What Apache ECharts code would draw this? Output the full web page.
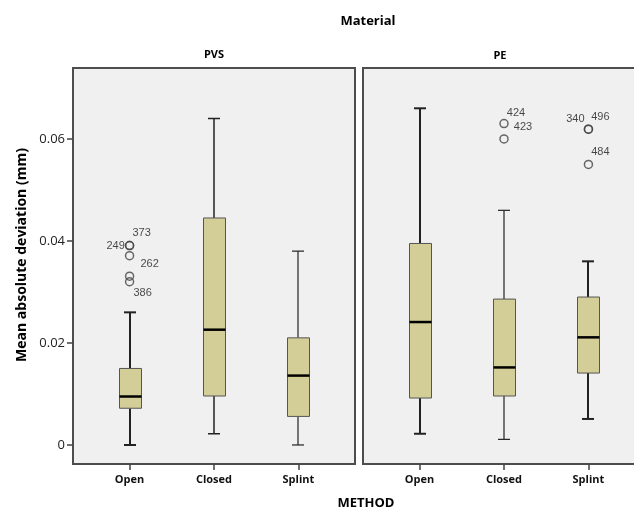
<!DOCTYPE html>
<html>
<head>
<meta charset="utf-8">
<script src="https://cdn.jsdelivr.net/npm/echarts@6/dist/echarts.min.js"></script>
<style>html,body{margin:0;padding:0;background:#fff;}#c{width:634px;height:508px;}</style>
</head>
<body>
<div id="c"></div>
<script>
// ---- data ----
const categories = ['Open', 'Closed', 'Splint'];
const yTicks = [0, 0.02, 0.04, 0.06];
// [min, Q1, median, Q3, max] per category
const pvsBox = [
  [0.0, 0.0072, 0.0095, 0.0150, 0.0260],
  [0.0022, 0.0096, 0.0226, 0.0445, 0.0640],
  [0.0, 0.0056, 0.0136, 0.0210, 0.0380]
];
const peBox = [
  [0.0022, 0.0092, 0.0241, 0.0395, 0.0660],
  [0.0011, 0.0096, 0.0152, 0.0286, 0.0460],
  [0.0051, 0.0141, 0.0211, 0.0290, 0.0360]
];
// [category, value, case id]
const pvsOutliers = [
  ['Open', 0.0391, '249'],
  ['Open', 0.0391, '373'],
  ['Open', 0.0371, '262'],
  ['Open', 0.0331, ''],
  ['Open', 0.0320, '386']
];
const peOutliers = [
  ['Closed', 0.0630, '424'],
  ['Closed', 0.0600, '423'],
  ['Splint', 0.0619, '340'],
  ['Splint', 0.0619, '496'],
  ['Splint', 0.0550, '484']
];

// ---- styles ----
const labelOffsets = {
  '249': [-14, 0], '373': [12, -13], '262': [20, 8], '386': [13, 11],
  '424': [12, -11], '423': [19, -12], '340': [-13, -10], '496': [12, -12], '484': [12, -12]
};
const whiskerWidths = [[2, 1.5, 1.2], [2, 1.2, 2]];
const BOX_FILL = '#d3ce97';

function boxData(stats) {
  return stats.map((s, i) => [i + 1].concat(s));
}
function outlierData(list) {
  return list.map(o => {
    const item = { value: [categories.indexOf(o[0]) + 1, o[1]], name: o[2] };
    if (o[2]) {
      item.label = { show: true, offset: labelOffsets[o[2]] };
    } else {
      item.label = { show: false };
    }
    return item;
  });
}
function makeRender(panel) {
  return function (params, api) {
    const x = api.value(0);
    const pMin = api.coord([x, api.value(1)]);
    const pQ1 = api.coord([x, api.value(2)]);
    const pMed = api.coord([x, api.value(3)]);
    const pQ3 = api.coord([x, api.value(4)]);
    const pMax = api.coord([x, api.value(5)]);
    const cx = Math.round(pMed[0]);
    const hw = 11, cw = 6;
    const ww = whiskerWidths[panel][params.dataIndex];
    const wl = { stroke: '#222', lineWidth: ww };
    return {
      type: 'group',
      children: [
        { type: 'line', shape: { x1: cx, y1: pQ3[1], x2: cx, y2: pMax[1] }, style: wl },
        { type: 'line', shape: { x1: cx, y1: pQ1[1], x2: cx, y2: pMin[1] }, style: wl },
        { type: 'line', shape: { x1: cx - cw, y1: pMax[1], x2: cx + cw, y2: pMax[1] }, style: wl },
        { type: 'line', shape: { x1: cx - cw, y1: pMin[1], x2: cx + cw, y2: pMin[1] }, style: wl },
        { type: 'rect', shape: { x: cx - hw + 0.5, y: pQ3[1], width: hw * 2, height: pQ1[1] - pQ3[1] },
          style: { fill: BOX_FILL, stroke: '#555', lineWidth: 1 } },
        { type: 'line', shape: { x1: cx - hw + 0.5, y1: pMed[1], x2: cx + hw + 0.5, y2: pMed[1] },
          style: { stroke: '#000', lineWidth: 2.5 } }
      ]
    };
  };
}

const YMIN = -0.00373, YMAX = 0.0739;
const XMIN = 0.33, XMAX = 3.67;
const tickFont = 'Open Sans';

function xAxis(gi) {
  return {
    type: 'value', gridIndex: gi, min: XMIN, max: XMAX,
    splitLine: { show: false },
    axisLine: { show: false, onZero: false },
    axisTick: { show: true, customValues: [1, 2, 3], length: 6, lineStyle: { color: '#444', width: 1.5 } },
    axisLabel: { customValues: [1, 2, 3], formatter: v => categories[Math.round(v) - 1],
      fontSize: 11, fontWeight: 'bold', color: '#111', fontFamily: tickFont, margin: 10 }
  };
}

const option = {
  animation: false,
  backgroundColor: '#fff',
  grid: [
    { left: 73, top: 68, width: 282, height: 396, outerBoundsMode: 'none', containLabel: false,
      show: true, backgroundColor: '#f0f0f0', borderColor: '#4d4d4d', borderWidth: 2 },
    { left: 363, top: 68, width: 282, height: 396, outerBoundsMode: 'none', containLabel: false,
      show: true, backgroundColor: '#f0f0f0', borderColor: '#4d4d4d', borderWidth: 2 }
  ],
  xAxis: [xAxis(0), xAxis(1)],
  yAxis: [
    {
      type: 'value', gridIndex: 0, min: YMIN, max: YMAX,
      splitLine: { show: false },
      axisLine: { show: false, onZero: false },
      axisTick: { show: true, customValues: yTicks, length: 6, lineStyle: { color: '#444', width: 1.5 } },
      axisLabel: { customValues: yTicks, formatter: v => v === 0 ? '0' : v.toFixed(2),
        fontSize: 13, color: '#222', fontFamily: tickFont, margin: 8 }
    },
    { type: 'value', gridIndex: 1, min: YMIN, max: YMAX, show: false }
  ],
  series: [
    { type: 'custom', xAxisIndex: 0, yAxisIndex: 0, renderItem: makeRender(0), data: boxData(pvsBox),
      encode: { x: 0, y: [1, 2, 3, 4, 5] } },
    { type: 'custom', xAxisIndex: 1, yAxisIndex: 1, renderItem: makeRender(1), data: boxData(peBox),
      encode: { x: 0, y: [1, 2, 3, 4, 5] } },
    { type: 'scatter', xAxisIndex: 0, yAxisIndex: 0, data: outlierData(pvsOutliers),
      symbol: 'circle', symbolSize: 8,
      itemStyle: { color: 'rgba(0,0,0,0)', borderColor: '#444', borderWidth: 1.5 },
      label: { position: 'inside', formatter: p => p.name, fontSize: 11, color: '#1a1a1a', fontFamily: 'Liberation Sans' } },
    { type: 'scatter', xAxisIndex: 1, yAxisIndex: 1, data: outlierData(peOutliers),
      symbol: 'circle', symbolSize: 8,
      itemStyle: { color: 'rgba(0,0,0,0)', borderColor: '#444', borderWidth: 1.5 },
      label: { position: 'inside', formatter: p => p.name, fontSize: 11, color: '#1a1a1a', fontFamily: 'Liberation Sans' } }
  ],
  graphic: [
    { type: 'text', x: 368, y: 21, style: { text: 'Material', font: 'bold 13px "Open Sans"', fill: '#000', align: 'center', verticalAlign: 'middle' } },
    { type: 'text', x: 214, y: 55, style: { text: 'PVS', font: 'bold 11px "Open Sans"', fill: '#000', align: 'center', verticalAlign: 'middle' } },
    { type: 'text', x: 500, y: 56, style: { text: 'PE', font: 'bold 11px "Open Sans"', fill: '#000', align: 'center', verticalAlign: 'middle' } },
    { type: 'text', x: 366, y: 503, style: { text: 'METHOD', font: 'bold 13px "Open Sans"', fill: '#000', align: 'center', verticalAlign: 'middle' } },
    { type: 'text', x: 22, y: 255, rotation: Math.PI / 2, style: { text: 'Mean absolute deviation (mm)', font: 'bold 14px "Open Sans"', fill: '#000', align: 'center', verticalAlign: 'middle' } }
  ]
};

const chart = echarts.init(document.getElementById('c'), null, { renderer: 'canvas' });
chart.setOption(option);
</script>
</body>
</html>
